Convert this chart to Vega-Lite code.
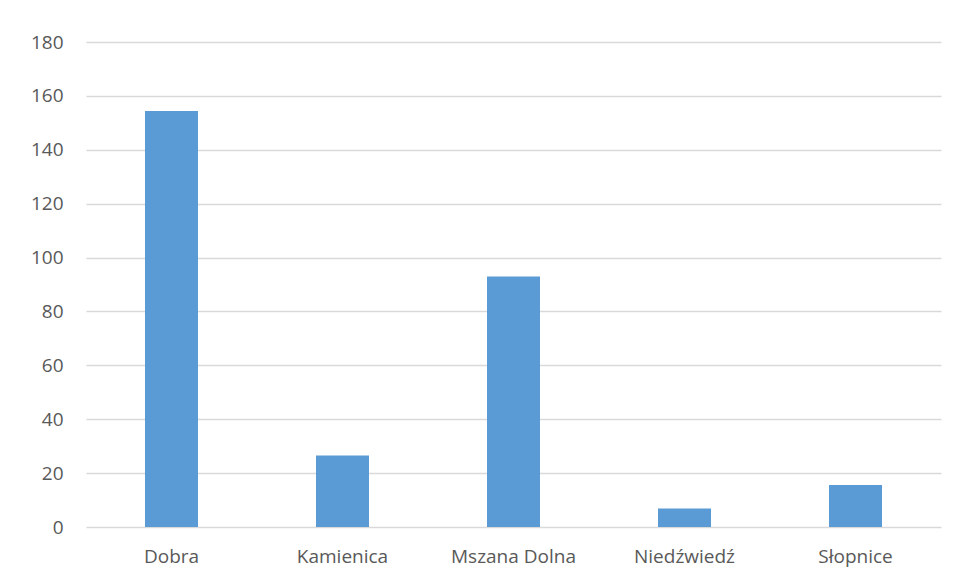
{
  "$schema": "https://vega.github.io/schema/vega-lite/v6.json",
  "width": 855,
  "height": 485,
  "autosize": {"type": "none"},
  "padding": {"left": 86, "top": 42, "right": 16, "bottom": 54},
  "background": "white",
  "data": {
    "values": [
      {"gmina": "Dobra", "value": 154.4},
      {"gmina": "Kamienica", "value": 26.5},
      {"gmina": "Mszana Dolna", "value": 93.0},
      {"gmina": "Niedźwiedź", "value": 6.9},
      {"gmina": "Słopnice", "value": 15.6}
    ]
  },
  "mark": {"type": "bar", "color": "#5B9BD5"},
  "encoding": {
    "x": {
      "field": "gmina",
      "type": "nominal",
      "sort": null,
      "scale": {"paddingInner": 0.69, "paddingOuter": 0.345},
      "axis": {
        "title": null,
        "labelAngle": 0,
        "ticks": false,
        "domain": false,
        "labelPadding": 20,
        "labelFont": "Open Sans",
        "labelFontSize": 19,
        "labelColor": "#595959"
      }
    },
    "y": {
      "field": "value",
      "type": "quantitative",
      "scale": {"domain": [0, 180], "nice": false},
      "axis": {
        "title": null,
        "values": [0, 20, 40, 60, 80, 100, 120, 140, 160, 180],
        "ticks": false,
        "domain": false,
        "labelPadding": 23,
        "labelFont": "Open Sans",
        "labelFontSize": 19,
        "labelColor": "#595959",
        "gridColor": "#D9D9D9",
        "gridWidth": 1.5
      }
    }
  },
  "config": {"view": {"stroke": null}}
}
